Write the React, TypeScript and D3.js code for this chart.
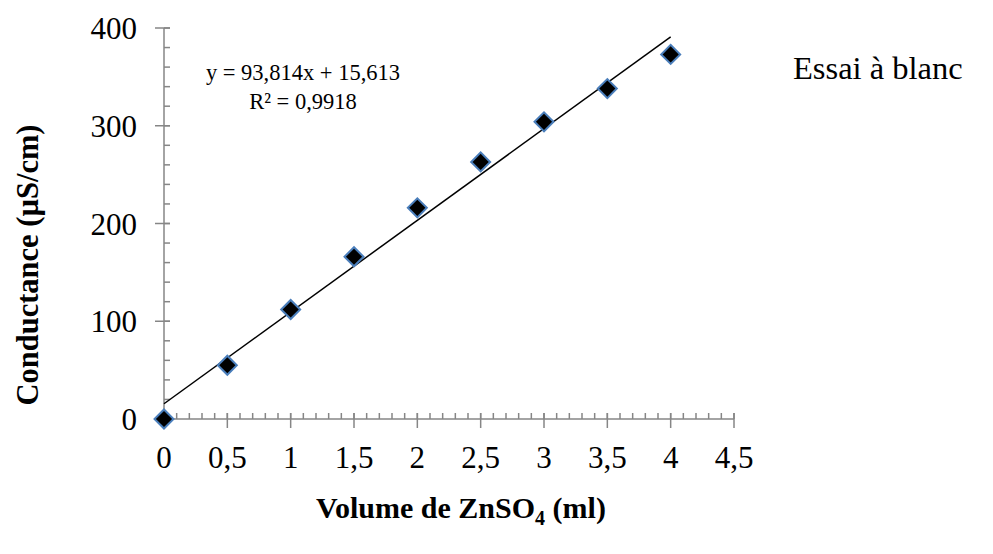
import { useEffect, useRef } from "react";
import * as d3 from "d3";

const volumes = [0, 0.5, 1, 1.5, 2, 2.5, 3, 3.5, 4];
const conductance = [0, 55, 112, 166, 216, 263, 304, 338, 373];
const xTicks = [0, 0.5, 1, 1.5, 2, 2.5, 3, 3.5, 4, 4.5];
const yTicks = [0, 100, 200, 300, 400];
const slope = 93.814;
const intercept = 15.613;

const fmt = (v: number) => String(v).replace(".", ",");

export default function App() {
  const svgRef = useRef<SVGSVGElement>(null);

  useEffect(() => {
    if (!svgRef.current) return;
    const svg = d3.select(svgRef.current);
    svg.selectAll("*").remove();

    const font = "'Liberation Serif', 'Times New Roman', serif";
    const axisColor = "#868686";

    const x = d3.scaleLinear().domain([0, 4.5]).range([164, 734]);
    const y = d3.scaleLinear().domain([0, 400]).range([419, 28]);

    // Minor ticks
    const xMinor = d3.range(0, 4.5001, 0.1);
    svg
      .append("g")
      .selectAll("line")
      .data(xMinor)
      .enter()
      .append("line")
      .attr("x1", (d) => x(d))
      .attr("x2", (d) => x(d))
      .attr("y1", y(0))
      .attr("y2", y(0) - 6)
      .attr("stroke", axisColor)
      .attr("stroke-width", 1.5);

    const yMinor = d3.range(0, 400.001, 20);
    svg
      .append("g")
      .selectAll("line")
      .data(yMinor)
      .enter()
      .append("line")
      .attr("x1", x(0))
      .attr("x2", x(0) + 6)
      .attr("y1", (d) => y(d))
      .attr("y2", (d) => y(d))
      .attr("stroke", axisColor)
      .attr("stroke-width", 1.5);

    // Major ticks
    svg
      .append("g")
      .selectAll("line")
      .data(xTicks)
      .enter()
      .append("line")
      .attr("x1", (d) => x(d))
      .attr("x2", (d) => x(d))
      .attr("y1", y(0) - 6)
      .attr("y2", y(0) + 9)
      .attr("stroke", axisColor)
      .attr("stroke-width", 1.5);

    svg
      .append("g")
      .selectAll("line")
      .data(yTicks)
      .enter()
      .append("line")
      .attr("x1", x(0) - 9)
      .attr("x2", x(0) + 6)
      .attr("y1", (d) => y(d))
      .attr("y2", (d) => y(d))
      .attr("stroke", axisColor)
      .attr("stroke-width", 1.5);

    // Axis lines
    svg
      .append("line")
      .attr("x1", x(0))
      .attr("x2", x(4.5))
      .attr("y1", y(0))
      .attr("y2", y(0))
      .attr("stroke", axisColor)
      .attr("stroke-width", 1.5);
    svg
      .append("line")
      .attr("x1", x(0))
      .attr("x2", x(0))
      .attr("y1", y(0))
      .attr("y2", y(400))
      .attr("stroke", axisColor)
      .attr("stroke-width", 1.5);

    // Tick labels
    svg
      .append("g")
      .selectAll("text")
      .data(xTicks)
      .enter()
      .append("text")
      .attr("x", (d) => x(d))
      .attr("y", 468)
      .attr("text-anchor", "middle")
      .attr("font-family", font)
      .attr("font-size", 31)
      .text((d) => fmt(d));

    svg
      .append("g")
      .selectAll("text")
      .data(yTicks)
      .enter()
      .append("text")
      .attr("x", 137)
      .attr("y", (d) => y(d) + 11)
      .attr("text-anchor", "end")
      .attr("font-family", font)
      .attr("font-size", 31)
      .text((d) => String(d));

    // Trendline
    svg
      .append("line")
      .attr("x1", x(0))
      .attr("y1", y(intercept))
      .attr("x2", x(4))
      .attr("y2", y(intercept + slope * 4))
      .attr("stroke", "#000")
      .attr("stroke-width", 1.5);

    // Points
    const pts = volumes.map((v, i) => ({ v, c: conductance[i] }));
    svg
      .append("g")
      .selectAll("path")
      .data(pts)
      .enter()
      .append("path")
      .attr("d", d3.symbol(d3.symbolSquare, 180)())
      .attr("transform", (d) => `translate(${x(d.v)},${y(d.c)}) rotate(45)`)
      .attr("fill", "#000")
      .attr("stroke", "#4a7ebb")
      .attr("stroke-width", 2);

    // Equation
    const eq = svg
      .append("text")
      .attr("font-family", font)
      .attr("font-size", 22.5)
      .attr("text-anchor", "middle");
    eq.append("tspan").attr("x", 303).attr("y", 80).text("y = 93,814x + 15,613");
    eq.append("tspan").attr("x", 303).attr("y", 109).text("R² = 0,9918");

    // Series label
    svg
      .append("text")
      .attr("x", 793)
      .attr("y", 79)
      .attr("font-family", font)
      .attr("font-size", 32.5)
      .text("Essai à blanc");

    // Axis titles
    const xt = svg
      .append("text")
      .attr("x", 461)
      .attr("y", 518)
      .attr("text-anchor", "middle")
      .attr("font-family", font)
      .attr("font-size", 30)
      .attr("font-weight", "bold");
    xt.append("tspan").text("Volume de ZnSO");
    xt.append("tspan").attr("font-size", 20).attr("dy", 7).text("4");
    xt.append("tspan").attr("dy", -7).text(" (ml)");

    svg
      .append("text")
      .attr("transform", "translate(38,265) rotate(-90)")
      .attr("text-anchor", "middle")
      .attr("font-family", font)
      .attr("font-size", 30.5)
      .attr("font-weight", "bold")
      .text("Conductance (µS/cm)");
  }, []);

  return (
    <svg
      ref={svgRef}
      width={993}
      height={554}
      style={{ position: "absolute", left: 0, top: 0, background: "#fff" }}
    />
  );
}
